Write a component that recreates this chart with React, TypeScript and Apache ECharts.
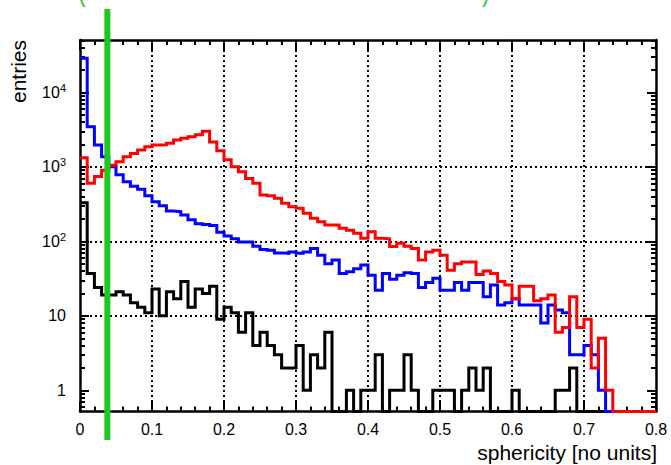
import React, { useEffect, useRef } from "react";
import * as echarts from "echarts";

// ---- data (counts per bin, bin width 0.01 from 0 to 0.8) ----
const X_MIN = 0;
const X_MAX = 0.8;
const BIN_WIDTH = 0.01;
const Y_MIN = 0.52;
const Y_MAX = 50400;
const CUT_X = 0.038;

const X_TICK_LABELS = ["0", "0.1", "0.2", "0.3", "0.4", "0.5", "0.6", "0.7", "0.8"];
const Y_MAJOR_TICKS = [1, 10, 100, 1000, 10000];

const BLUE = [
  28600, 3450, 1960, 1370, 1000, 780, 630, 550, 500, 410,
  340, 300, 255, 250, 225, 195, 172, 168, 163, 132,
  118, 108, 98, 98, 86, 78, 76, 70, 69, 72,
  69, 72, 80, 65, 50, 56, 37, 39, 43, 48,
  35, 22, 37, 31, 35, 38, 37, 24, 28, 32,
  22, 22, 28, 22, 28, 28, 18, 26, 14, 15,
  17, 14, 14, 14, 8, 14, 12, 11, 3, 3,
  4, 3, 1, 0, 0, 0, 0, 0, 0, 0,
];

const RED = [
  1320, 600, 740, 900, 1050, 1170, 1370, 1510, 1680, 1860,
  1960, 1980, 2070, 2290, 2410, 2530, 2700, 3000, 2150, 1650,
  1240, 1000, 860, 700, 600, 420, 410, 378, 324, 292,
  277, 238, 204, 183, 166, 166, 150, 141, 128, 110,
  135, 110, 108, 85, 94, 86, 80, 56, 72, 76,
  65, 41, 50, 53, 53, 36, 40, 37, 29, 26,
  17, 25, 25, 16, 17, 19, 6, 7, 18, 7,
  9, 2, 5, 1, 0, 0, 0, 0, 0, 0,
];

const BLACK = [
  330, 37, 24, 19, 19, 21, 19, 15, 13, 11,
  23, 10, 21, 17, 29, 13, 23, 20, 25, 9,
  13, 11, 6, 11, 4, 6, 4, 3, 2, 2,
  4, 1, 3, 2, 6, 0, 0, 1, 0, 1,
  1, 3, 0, 1, 1, 3, 1, 0, 0, 1,
  1, 1, 0, 1, 2, 1, 2, 0, 0, 0,
  1, 0, 0, 0, 0, 0, 1, 1, 2, 0,
  0, 0, 0, 0, 0, 0, 0, 0, 0, 0,
];

const FONT = "Liberation Sans, Arial, Helvetica, sans-serif";
const GREEN = "#1ec81e";

function minorLogTicks(): number[] {
  const out: number[] = [];
  for (let d = -1; d <= 4; d++) {
    for (let m = 2; m <= 9; m++) {
      const v = m * Math.pow(10, d);
      if (v > Y_MIN && v < Y_MAX) out.push(v);
    }
  }
  return out;
}

function histData(bins: number[]) {
  const pts = bins.map((v, i) => [
    +(X_MIN + i * BIN_WIDTH).toFixed(4),
    v > 0 ? v : Y_MIN,
  ]);
  const last = bins[bins.length - 1];
  pts.push([X_MAX, last > 0 ? last : Y_MIN]);
  return pts;
}

function yLabel(v: number): string {
  const e = Math.round(Math.log10(v));
  if (e === 0) return "{b|1}";
  if (e === 1) return "{b|10}";
  return "{b|10}{s|" + e + "}";
}

export default function App() {
  const ref = useRef<HTMLDivElement>(null);
  useEffect(() => {
    if (!ref.current) return;
    const chart = echarts.init(ref.current, undefined, { renderer: "svg" });
    const minor = minorLogTicks();
    const frameLine = { show: true, onZero: false, lineStyle: { color: "#000", width: 2.5 } };
    const mkY = (position: "left" | "right", major: boolean, labels: boolean) => ({
      type: "log" as const,
      min: Y_MIN,
      max: Y_MAX,
      position,
      axisLine: major ? frameLine : { show: false, onZero: false },
      axisTick: {
        show: true,
        inside: true,
        length: major ? 9 : 5,
        customValues: major ? Y_MAJOR_TICKS : minor,
        lineStyle: { color: "#000", width: 2 },
      },
      axisLabel: labels
        ? {
            show: true,
            margin: 14,
            customValues: Y_MAJOR_TICKS,
            formatter: yLabel,
            color: "#000",
            fontFamily: FONT,
            fontSize: 16,
            rich: {
              b: { fontSize: 16, fontFamily: FONT, color: "#000", lineHeight: 20, verticalAlign: "middle" },
              s: { fontSize: 11, fontFamily: FONT, color: "#000", lineHeight: 11, verticalAlign: "top" },
            },
          }
        : { show: false },
      splitLine: labels
        ? {
            show: true,
            showMinLine: false,
            showMaxLine: false,
            lineStyle: { color: "#000", width: 2, type: [2, 3] },
          }
        : { show: false },
      minorTick: { show: false },
    });
    const mkX = (position: "bottom" | "top", labels: boolean) => ({
      type: "value" as const,
      min: X_MIN,
      max: X_MAX,
      interval: 0.1,
      position,
      axisLine: frameLine,
      axisTick: { show: true, inside: true, length: 10, lineStyle: { color: "#000", width: 2 } },
      minorTick: { show: true, splitNumber: 5, length: 5, lineStyle: { color: "#000", width: 2 } },
      axisLabel: labels
        ? {
            show: true,
            margin: 10,
            color: "#000",
            fontFamily: FONT,
            fontSize: 16,
            formatter: (v: number) => X_TICK_LABELS[Math.round(v * 10)] ?? "",
          }
        : { show: false },
      splitLine: labels
        ? {
            show: true,
            showMinLine: false,
            showMaxLine: false,
            lineStyle: { color: "#000", width: 2, type: [2, 3] },
          }
        : { show: false },
    });
    const series = [
      { name: "black", bins: BLACK, color: "#000000" },
      { name: "blue", bins: BLUE, color: "#0000ff" },
      { name: "red", bins: RED, color: "#ff0000" },
    ].map((s, k) => ({
      name: s.name,
      type: "line" as const,
      step: "end" as const,
      data: histData(s.bins),
      symbol: "none",
      clip: false,
      z: 3 + k,
      lineStyle: { color: s.color, width: 3, join: "miter" },
      itemStyle: { color: s.color },
      xAxisIndex: 0,
      yAxisIndex: 0,
    }));

    chart.setOption({
      animation: false,
      backgroundColor: "#ffffff",
      grid: { left: 80, right: 15, top: 40, bottom: 53.5, containLabel: false, outerBoundsMode: "none" },
      xAxis: [mkX("bottom", true), mkX("top", false)],
      yAxis: [mkY("left", true, true), mkY("left", false, false), mkY("right", true, false), mkY("right", false, false)],
      series,
    });

    const cx = chart.convertToPixel({ xAxisIndex: 0 }, CUT_X) as number;
    const txt = (text: string, x: number, y: number, extra: any) => ({
      type: "text",
      z: 100,
      x,
      y,
      ...extra,
      style: {
        text,
        fill: extra.fill ?? "#000",
        font: extra.font ?? `21px ${FONT}`,
        align: extra.align ?? "left",
        verticalAlign: extra.va ?? "middle",
        textAlign: extra.align ?? "left",
        textVerticalAlign: extra.va ?? "middle",
      },
    });
    chart.setOption({
      graphic: [
        {
          type: "line",
          z: 100,
          shape: { x1: cx, y1: 9, x2: cx, y2: 440 },
          style: { stroke: GREEN, lineWidth: 6 },
        },
        txt("entries", 18, 40, { rotation: Math.PI / 2, align: "right", va: "middle" }),
        txt("sphericity [no units]", 657, 452, { align: "right", va: "middle" }),
        txt("(", 79, 6, { fill: GREEN, font: `20px ${FONT}`, align: "left", va: "bottom" }),
        txt(")", 482, 6, { fill: GREEN, font: `20px ${FONT}`, align: "left", va: "bottom" }),
      ],
    });

    return () => chart.dispose();
  }, []);
  return (
    <div
      ref={ref}
      style={{ position: "fixed", left: 0, top: 0, width: 671, height: 465, background: "#fff" }}
    />
  );
}
